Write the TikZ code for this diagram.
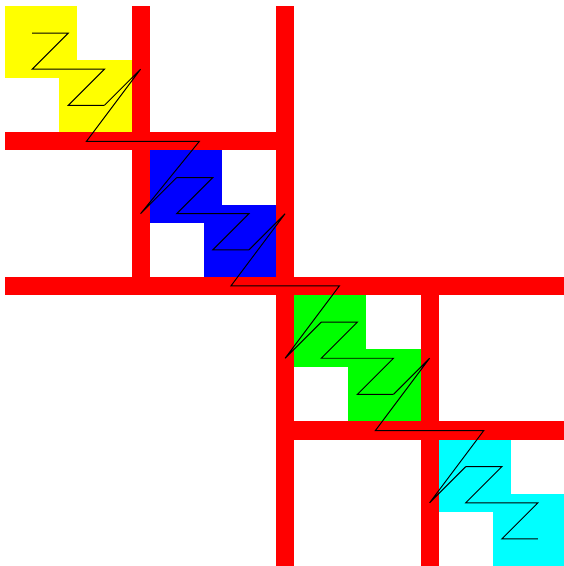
\documentclass[tikz,border=0pt]{standalone}
\usepackage{xcolor}
\usepackage{tikz}
\definecolor{WallRed}{RGB}{255, 0, 0}
\definecolor{TileYellow}{RGB}{255, 255, 0}
\definecolor{TileBlue}{RGB}{0, 0, 255}
\definecolor{TileGreen}{RGB}{0, 255, 0}
\definecolor{TileCyan}{RGB}{0, 255, 255}

\begin{document}
\begin{tikzpicture}[
  x=0.32cm, y=-0.32cm,
  tile/.style={fill=#1, draw=none},
  wall/.style={fill=WallRed, draw=none},
  zz/.style={draw=black, line width=0.5pt}
]
  \useasboundingbox (-0.28,-0.33) rectangle (30.9,31);

  % tiles, two per block
  \foreach \o/\c in {0/TileYellow, 8/TileBlue, 16/TileGreen, 24/TileCyan} {
    \fill[tile=\c] (\o,\o) rectangle ++(4,4);
    \fill[tile=\c] (\o+3,\o+3) rectangle ++(4,4);
  }

  % walls
  \fill[wall] (7,0)   rectangle (8,16);
  \fill[wall] (15,0)  rectangle (16,31);
  \fill[wall] (0,7)   rectangle (16,8);
  \fill[wall] (0,15)  rectangle (31,16);
  \fill[wall] (23,15) rectangle (24,31);
  \fill[wall] (15,23) rectangle (31,24);

  % zigzag inside each block
  \foreach \o in {0,8,16,24} {
    \draw[zz] (\o+1.5,\o+1.5) -- (\o+3.5,\o+1.5) -- (\o+1.5,\o+3.5)
      -- (\o+5.5,\o+3.5) -- (\o+3.5,\o+5.5) -- (\o+5.5,\o+5.5);
  }
  % links between blocks
  \foreach \o/\r in {0/10.75, 8/18.5, 16/26.5} {
    \draw[zz] (\o+5.5,\o+5.5) -- (\o+7.5,\o+3.5) -- (\o+4.5,\o+7.5)
      -- (\r,\o+7.5) -- (\o+7.5,\o+11.5) -- (\o+9.5,\o+9.5);
  }
\end{tikzpicture}
\end{document}
